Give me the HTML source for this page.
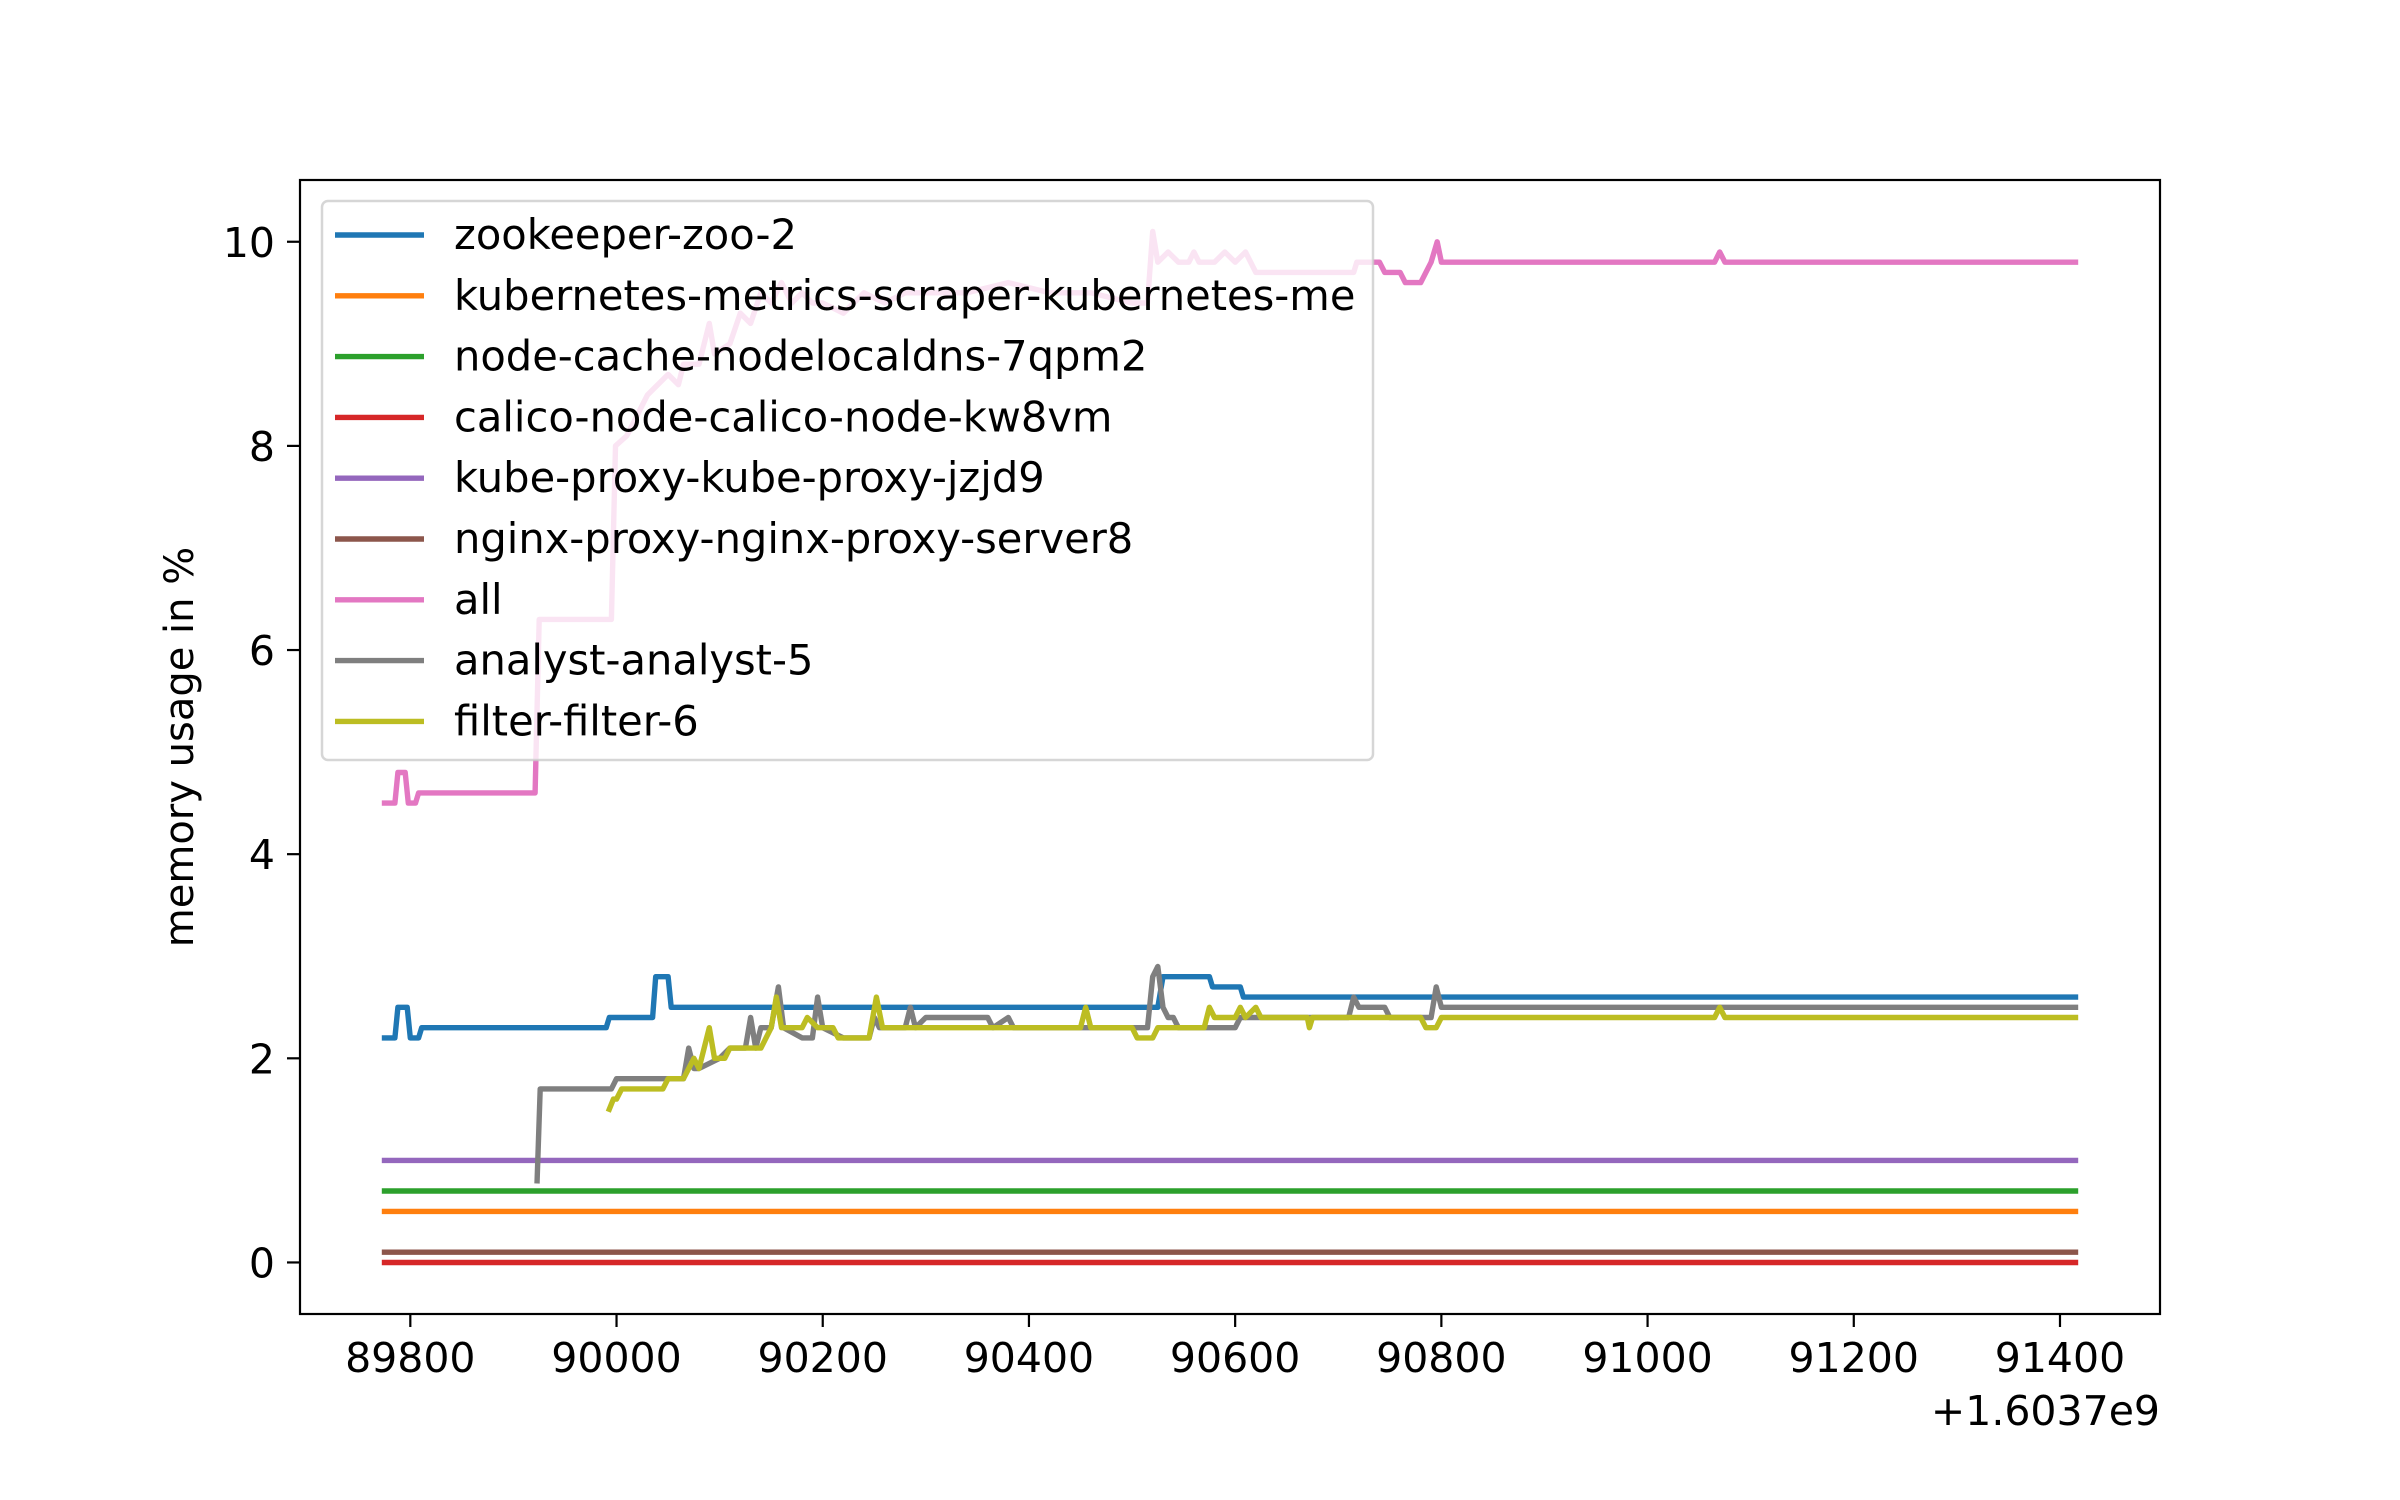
<!DOCTYPE html>
<html><head><meta charset="utf-8"><style>
html,body{margin:0;padding:0;background:#fff;}
svg{display:block;font-family:"DejaVu Sans","Liberation Sans",sans-serif;}
</style></head><body>
<svg id="chart" width="2400" height="1500" viewBox="0 0 2400 1500" xmlns="http://www.w3.org/2000/svg">
<rect width="2400" height="1500" fill="#fff"/>
<g id="series"></g>
<g id="legend"></g>
<g id="axes"></g>
<text x="0" y="0" font-size="40" text-anchor="middle" transform="translate(193,747) rotate(-90)">memory usage in %</text>
<text x="2160" y="1425" font-size="41" text-anchor="end">+1.6037e9</text>
</svg>
<script>
const xTicks = [89800, 90000, 90200, 90400, 90600, 90800, 91000, 91200, 91400];
const yTicks = [0, 2, 4, 6, 8, 10];
const seriesNames = ["zookeeper-zoo-2","kubernetes-metrics-scraper-kubernetes-me","node-cache-nodelocaldns-7qpm2","calico-node-calico-node-kw8vm","kube-proxy-kube-proxy-jzjd9","nginx-proxy-nginx-proxy-server8","all","analyst-analyst-5","filter-filter-6"];
const seriesColors = ["#1f77b4","#ff7f0e","#2ca02c","#d62728","#9467bd","#8c564b","#e377c2","#7f7f7f","#bcbd22"];
const zooData = [[89775,2.2],[89785,2.2],[89788,2.5],[89797,2.5],[89800,2.2],[89808,2.2],[89811,2.3],[89990,2.3],[89993,2.4],[90035,2.4],[90038,2.8],[90050,2.8],[90053,2.5],[90525,2.5],[90530,2.8],[90575,2.8],[90578,2.7],[90605,2.7],[90608,2.6],[91415,2.6]];
const metricsData = [[89775,0.5],[91415,0.5]];
const nodeCacheData = [[89775,0.7],[91415,0.7]];
const calicoData = [[89775,0.0],[91415,0.0]];
const kubeProxyData = [[89775,1.0],[91415,1.0]];
const nginxData = [[89775,0.1],[91415,0.1]];
const allData = [[89775,4.5],[89785,4.5],[89788,4.8],[89795,4.8],[89798,4.5],[89805,4.5],[89808,4.6],[89921,4.6],[89925,6.3],[89995,6.3],[89999,8.0],[90010,8.1],[90020,8.3],[90030,8.5],[90040,8.6],[90050,8.7],[90060,8.6],[90065,8.8],[90080,8.8],[90090,9.2],[90095,8.9],[90110,9.0],[90120,9.3],[90130,9.2],[90140,9.5],[90150,9.4],[90160,9.6],[90170,9.4],[90180,9.5],[90190,9.4],[90200,9.4],[90220,9.3],[90240,9.5],[90260,9.4],[90280,9.5],[90340,9.5],[90380,9.6],[90420,9.5],[90460,9.5],[90500,9.4],[90515,9.4],[90520,10.1],[90525,9.8],[90535,9.9],[90545,9.8],[90555,9.8],[90560,9.9],[90565,9.8],[90580,9.8],[90590,9.9],[90600,9.8],[90610,9.9],[90620,9.7],[90700,9.7],[90715,9.7],[90718,9.8],[90740,9.8],[90745,9.7],[90760,9.7],[90765,9.6],[90780,9.6],[90790,9.8],[90796,10.0],[90800,9.8],[91065,9.8],[91070,9.9],[91075,9.8],[91415,9.8]];
const analystData = [[89923,0.8],[89926,1.7],[89995,1.7],[90000,1.8],[90065,1.8],[90070,2.1],[90075,1.9],[90080,1.9],[90100,2.0],[90110,2.1],[90125,2.1],[90130,2.4],[90135,2.1],[90140,2.3],[90150,2.3],[90157,2.7],[90162,2.3],[90180,2.2],[90190,2.2],[90195,2.6],[90200,2.3],[90220,2.2],[90245,2.2],[90250,2.4],[90255,2.3],[90280,2.3],[90285,2.5],[90290,2.3],[90300,2.4],[90360,2.4],[90365,2.3],[90380,2.4],[90385,2.3],[90515,2.3],[90520,2.8],[90525,2.9],[90530,2.5],[90535,2.4],[90540,2.4],[90545,2.3],[90600,2.3],[90605,2.4],[90710,2.4],[90715,2.6],[90720,2.5],[90745,2.5],[90750,2.4],[90790,2.4],[90795,2.7],[90800,2.5],[91415,2.5]];
const filterData = [[89993,1.5],[89997,1.6],[90000,1.6],[90005,1.7],[90045,1.7],[90050,1.8],[90065,1.8],[90070,1.9],[90075,2.0],[90080,1.9],[90090,2.3],[90095,2.0],[90105,2.0],[90110,2.1],[90140,2.1],[90150,2.3],[90155,2.6],[90160,2.3],[90180,2.3],[90185,2.4],[90195,2.3],[90210,2.3],[90215,2.2],[90245,2.2],[90252,2.6],[90258,2.3],[90450,2.3],[90455,2.5],[90460,2.3],[90500,2.3],[90505,2.2],[90520,2.2],[90525,2.3],[90570,2.3],[90575,2.5],[90580,2.4],[90600,2.4],[90605,2.5],[90610,2.4],[90620,2.5],[90625,2.4],[90670,2.4],[90672,2.3],[90675,2.4],[90780,2.4],[90785,2.3],[90795,2.3],[90800,2.4],[91065,2.4],[91070,2.5],[91075,2.4],[91415,2.4]];
const allSeries = [zooData, metricsData, nodeCacheData, calicoData, kubeProxyData, nginxData, allData, analystData, filterData];

const NS = "http://www.w3.org/2000/svg";
const L = 300, R = 2160, T = 180, B = 1314;
const LW = 5.4;
let xmin = Infinity, xmax = -Infinity, ymin = Infinity, ymax = -Infinity;
allSeries.forEach(s => s.forEach(p => { xmin = Math.min(xmin,p[0]); xmax = Math.max(xmax,p[0]); ymin = Math.min(ymin,p[1]); ymax = Math.max(ymax,p[1]); }));
const xr = xmax - xmin, yr = ymax - ymin;
xmin -= xr*0.05; xmax += xr*0.05; ymin -= yr*0.05; ymax += yr*0.05;
function sx(v){ return L + (v - xmin) / (xmax - xmin) * (R - L); }
function sy(v){ return B - (v - ymin) / (ymax - ymin) * (B - T); }
function mk(tag, attrs, parent){ const e = document.createElementNS(NS, tag); for (const k in attrs) e.setAttribute(k, attrs[k]); parent.appendChild(e); return e; }

const gS = document.getElementById('series');
allSeries.forEach((s, i) => {
  const d = s.map((p, j) => (j ? 'L' : 'M') + sx(p[0]).toFixed(1) + ',' + sy(p[1]).toFixed(1)).join(' ');
  const path = mk('path', {d: d, fill: 'none', stroke: seriesColors[i], 'stroke-width': LW, 'stroke-linejoin': 'round', 'stroke-linecap': 'square'}, gS);
  
  
});

const gL = document.getElementById('legend');
const box = mk('rect', {x: 322, y: 201, width: 1051, height: 559, rx: 6, fill: '#fff', 'fill-opacity': 0.8, stroke: '#cccccc', 'stroke-opacity': 0.8, 'stroke-width': 2.5}, gL);


seriesNames.forEach((n, i) => {
  const y = 235 + i * 60.8;
  const g = mk('g', {}, gL);
  
  
  mk('line', {x1: 335, x2: 424, y1: y, y2: y, stroke: seriesColors[i], 'stroke-width': LW}, g);
  const t = mk('text', {x: 454, y: y + 14, 'font-size': 41.6, fill: '#000'}, g);
  t.textContent = n;
});

const gA = document.getElementById('axes');
const frame = mk('rect', {x: L, y: T, width: R - L, height: B - T, fill: 'none', stroke: '#000', 'stroke-width': 2.2}, gA);


xTicks.forEach(v => {
  const x = sx(v);
  const tk = mk('line', {x1: x, x2: x, y1: B, y2: B + 13, stroke: '#000', 'stroke-width': 2.2}, gA);
  
  
  const t = mk('text', {x: x, y: B + 58, 'font-size': 41, 'text-anchor': 'middle'}, gA);
  
  
  t.textContent = v;
});
yTicks.forEach(v => {
  const y = sy(v);
  const tk = mk('line', {x1: L - 13, x2: L, y1: y, y2: y, stroke: '#000', 'stroke-width': 2.2}, gA);
  
  
  const t = mk('text', {x: L - 25, y: y + 15, 'font-size': 41, 'text-anchor': 'end'}, gA);
  
  
  t.textContent = v;
});
</script>
</body></html>
